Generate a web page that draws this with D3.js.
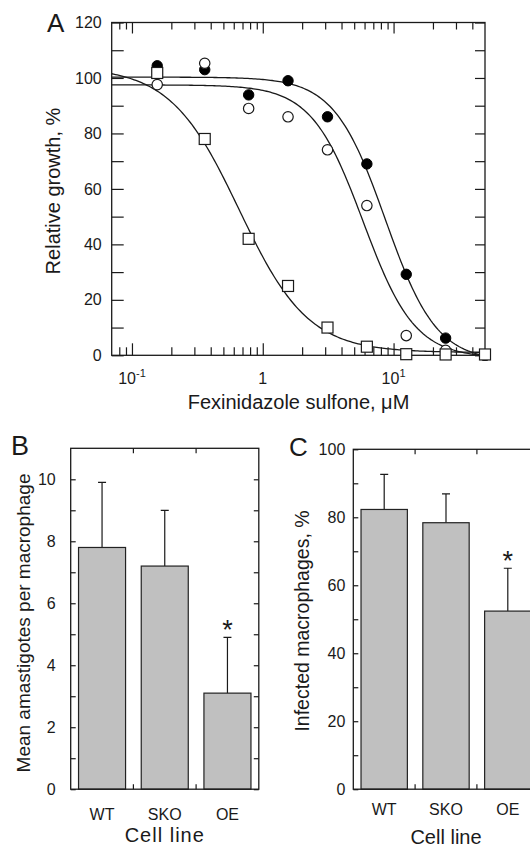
<!DOCTYPE html>
<html>
<head>
<meta charset="utf-8">
<script src="https://cdn.jsdelivr.net/npm/d3@7"></script>
<style>
  body { margin: 0; background: #fff; }
  text { font-family: Arial, "Liberation Sans", sans-serif; fill: #1a1a1a; }
  .axis path { display: none; }
  .axis line { stroke: #1a1a1a; stroke-width: 1.2; }
</style>
</head>
<body>
<svg id="chart" width="530" height="847"></svg>
<script>
// panel A - growth vs drug
var doses = [0.156, 0.36, 0.78, 1.56, 3.125, 6.25, 12.5, 25, 50];
var filledGrowth = [104.4, 103, 93.9, 99, 86, 69, 29.2, 6.2, 0];
var openGrowth = [97.6, 105.3, 89, 86, 74.1, 54, 7.1, 1.8, 0];
var squareGrowth = [101.8, 78, 42, 25, 10, 3.1, 0.4, 0.3, 0.3];

// fitted dose-response curves (filled, open, square)
var fitTop = [100.3, 97.5, 104];
var fitBottom = [-2.3, -1, 1];
var fitEC50 = [8.65, 5.85, 0.66];
var fitHill = [2.22, 2.2, 1.65];

var growthTicks = [0, 10, 20, 30, 40, 50, 60, 70, 80, 90, 100, 110, 120];
var doseMajor = [0.1, 1, 10];
var doseMinor = [0.08, 0.09, 0.2, 0.3, 0.4, 0.5, 0.6, 0.7, 0.8, 0.9,
                 2, 3, 4, 5, 6, 7, 8, 9, 20, 30, 40];

// panels B and C
var cellLines = ['WT', 'SKO', 'OE'];
var amastigotes = [7.8, 7.2, 3.1];
var amastigotesErr = [2.1, 1.8, 1.8];
var infected = [82.3, 78.4, 52.4];
var infectedErr = [10.3, 8.5, 12.6];
var signif = [false, false, true];

var svg = d3.select('#chart');

// ---------- A ----------
var x = d3.scaleLog().domain([0.07, 50]).range([111.7, 485]);
var y = d3.scaleLinear().domain([0, 120]).range([355.3, 22.5]);

var gA = svg.append('g');

gA.append('defs').append('clipPath').attr('id', 'clipA')
  .append('rect')
  .attr('x', x.range()[0]).attr('y', y.range()[1])
  .attr('width', x.range()[1] - x.range()[0])
  .attr('height', y.range()[0] - y.range()[1]);

gA.append('g').attr('class', 'axis')
  .attr('transform', 'translate(' + x.range()[0] + ',0)')
  .call(d3.axisLeft(y).tickValues(growthTicks).tickSize(-12).tickPadding(10)
    .tickFormat(d => d % 20 === 0 ? d : ''))
  .selectAll('text').style('font-size', '16px');

gA.append('g').attr('class', 'axis')
  .attr('transform', 'translate(' + x.range()[1] + ',0)')
  .call(d3.axisRight(y).tickValues(growthTicks).tickSize(-10).tickFormat(''));

function doseAxis(sel, bottom, majLen, minLen) {
  var ax = bottom ? d3.axisBottom(x) : d3.axisTop(x);
  sel.append('g').attr('class', 'axis')
    .attr('transform', 'translate(0,' + (bottom ? y.range()[0] : y.range()[1]) + ')')
    .call(ax.tickValues(doseMajor).tickSize(-majLen).tickFormat(''));
  var ax2 = bottom ? d3.axisBottom(x) : d3.axisTop(x);
  sel.append('g').attr('class', 'axis')
    .attr('transform', 'translate(0,' + (bottom ? y.range()[0] : y.range()[1]) + ')')
    .call(ax2.tickValues(doseMinor).tickSize(-minLen).tickFormat(''));
}
doseAxis(gA, true, 12, 8);
doseAxis(gA, false, 11, 7);

gA.append('rect')
  .attr('x', x.range()[0]).attr('y', y.range()[1])
  .attr('width', x.range()[1] - x.range()[0])
  .attr('height', y.range()[0] - y.range()[1])
  .attr('fill', 'none').attr('stroke', '#1a1a1a').attr('stroke-width', 1.3);

// dose tick labels
var expo = [-1, 0, 1];
var lab = gA.selectAll('.doselab').data(doseMajor).enter().append('text')
  .attr('class', 'doselab')
  .attr('x', d => x(d))
  .attr('y', 384)
  .attr('text-anchor', 'middle')
  .style('font-size', '16px');
lab.each(function(d, i) {
  var t = d3.select(this);
  if (expo[i] === 0) { t.text('1'); return; }
  t.append('tspan').text('10');
  t.append('tspan').attr('dy', -7).style('font-size', '11px').text(expo[i]);
});

gA.append('text').attr('x', 298.5).attr('y', 409).attr('text-anchor', 'middle')
  .style('font-size', '20px').text('Fexinidazole sulfone, \u03bcM');
gA.append('text').attr('transform', 'translate(60,191) rotate(-90)')
  .attr('text-anchor', 'middle').style('font-size', '20px').text('Relative growth, %');
gA.append('text').attr('x', 47).attr('y', 32).style('font-size', '26px').text('A');

// curves
var curveX = d3.range(0, 201).map(i => x.invert(x.range()[0] + i * (x.range()[1] - x.range()[0]) / 200));
var line = d3.line().x(d => x(d[0])).y(d => y(d[1]));
fitTop.forEach(function(top, k) {
  var pts = curveX.map(c => [c, fitBottom[k] + (top - fitBottom[k]) / (1 + Math.pow(c / fitEC50[k], fitHill[k]))]);
  gA.append('path').attr('d', line(pts)).attr('fill', 'none')
    .attr('stroke', '#1a1a1a').attr('stroke-width', 1.3).attr('clip-path', 'url(#clipA)');
});

gA.selectAll('.filled').data(doses).enter().append('circle')
  .attr('cx', d => x(d)).attr('cy', (d, i) => y(filledGrowth[i])).attr('r', 5.2)
  .attr('fill', '#000').attr('stroke', '#000');
gA.selectAll('.open').data(doses).enter().append('circle')
  .attr('cx', d => x(d)).attr('cy', (d, i) => y(openGrowth[i])).attr('r', 5.2)
  .attr('fill', '#fff').attr('stroke', '#1a1a1a').attr('stroke-width', 1.2);
gA.selectAll('.sq').data(doses).enter().append('rect')
  .attr('x', d => x(d) - 5.5).attr('y', (d, i) => y(squareGrowth[i]) - 5.5)
  .attr('width', 11).attr('height', 11)
  .attr('fill', '#fff').attr('stroke', '#1a1a1a').attr('stroke-width', 1.2);

// ---------- bar panels ----------
function barPanel(opt) {
  var g = svg.append('g');
  var xb = d3.scaleBand().domain(cellLines).range([opt.left, opt.left + 3 * opt.step])
    .paddingInner(0.25).paddingOuter(0.125);
  var yb = d3.scaleLinear().domain(opt.domain).range([789.2, opt.top]);
  var bounds = [xb.range()[0] + xb.step(), xb.range()[0] + 2 * xb.step()];

  g.append('g').attr('class', 'axis').attr('transform', 'translate(' + opt.left + ',0)')
    .call(d3.axisLeft(yb).tickValues(opt.ticks).tickSize(-5).tickPadding(opt.pad)
      .tickFormat(d => d % opt.every === 0 ? d : ''))
    .selectAll('text').style('font-size', opt.tickFont);
  g.append('g').attr('class', 'axis').attr('transform', 'translate(' + xb.range()[1] + ',0)')
    .call(d3.axisRight(yb).tickValues(opt.ticks).tickSize(-5).tickFormat(''));
  g.selectAll('.bt').data(bounds).enter().append('line')
    .attr('x1', d => d).attr('x2', d => d).attr('y1', yb.range()[1]).attr('y2', yb.range()[1] + 5)
    .attr('stroke', '#1a1a1a').attr('stroke-width', 1.2);
  g.selectAll('.bb').data(bounds).enter().append('line')
    .attr('x1', d => d).attr('x2', d => d).attr('y1', yb.range()[0]).attr('y2', yb.range()[0] - 5)
    .attr('stroke', '#1a1a1a').attr('stroke-width', 1.2);

  // error bars (upper only)
  g.selectAll('.err').data(cellLines).enter().append('path')
    .attr('d', (d, i) => {
      var cx = xb(d) + xb.bandwidth() / 2;
      var y0 = yb(opt.values[i]), y1 = yb(opt.values[i] + opt.err[i]);
      return 'M' + cx + ',' + y0 + 'V' + y1 + 'M' + (cx - 4) + ',' + y1 + 'H' + (cx + 4);
    })
    .attr('stroke', '#1a1a1a').attr('stroke-width', 1.2).attr('fill', 'none');

  g.selectAll('.bar').data(cellLines).enter().append('rect')
    .attr('x', d => xb(d)).attr('width', xb.bandwidth())
    .attr('y', (d, i) => yb(opt.values[i]))
    .attr('height', (d, i) => yb(0) - yb(opt.values[i]))
    .attr('fill', '#c0c0c0').attr('stroke', '#222').attr('stroke-width', 1.2);

  g.selectAll('.star').data(cellLines.filter((d, i) => signif[i])).enter().append('text')
    .attr('x', d => xb(d) + xb.bandwidth() / 2)
    .attr('y', d => { var i = cellLines.indexOf(d); return yb(opt.values[i] + opt.err[i]) + 2; })
    .attr('text-anchor', 'middle').style('font-size', '27px').text('*');

  g.append('rect')
    .attr('x', xb.range()[0]).attr('y', yb.range()[1])
    .attr('width', xb.range()[1] - xb.range()[0]).attr('height', yb.range()[0] - yb.range()[1])
    .attr('fill', 'none').attr('stroke', '#1a1a1a').attr('stroke-width', 1.3);

  g.selectAll('.cat').data(cellLines).enter().append('text')
    .attr('x', d => xb(d) + xb.bandwidth() / 2).attr('y', opt.catY)
    .attr('text-anchor', 'middle').style('font-size', '16px').text(d => d);
  g.append('text').attr('x', opt.left + 1.5 * opt.step).attr('y', opt.titleY)
    .attr('text-anchor', 'middle').style('font-size', '20px')
    .style('letter-spacing', opt.spacing).text('Cell line');
  g.append('text').attr('transform', 'translate(' + opt.labX + ',' + opt.labY + ') rotate(-90)')
    .attr('text-anchor', 'middle').style('font-size', opt.labFont).text(opt.label);
  g.append('text').attr('x', opt.letterX).attr('y', opt.letterY)
    .style('font-size', opt.letterFont).text(opt.letter);
}

barPanel({
  left: 70.7, step: 62.7, top: 448.3, domain: [0, 11],
  ticks: d3.range(0, 11), every: 2, pad: 15, tickFont: '16px',
  values: amastigotes, err: amastigotesErr,
  catY: 820, titleY: 842, spacing: '1px',
  labX: 29.5, labY: 623, labFont: '19px', label: 'Mean amastigotes per macrophage',
  letter: 'B', letterX: 11, letterY: 455, letterFont: '27px'
});

barPanel({
  left: 353.3, step: 61.8, top: 449.3, domain: [0, 100],
  ticks: d3.range(0, 101, 10), every: 20, pad: 8, tickFont: '16px',
  values: infected, err: infectedErr,
  catY: 815, titleY: 844, spacing: '0px',
  labX: 309, labY: 621, labFont: '19.5px', label: 'Infected macrophages, %',
  letter: 'C', letterX: 289, letterY: 456, letterFont: '26px'
});
</script>
</body>
</html>
